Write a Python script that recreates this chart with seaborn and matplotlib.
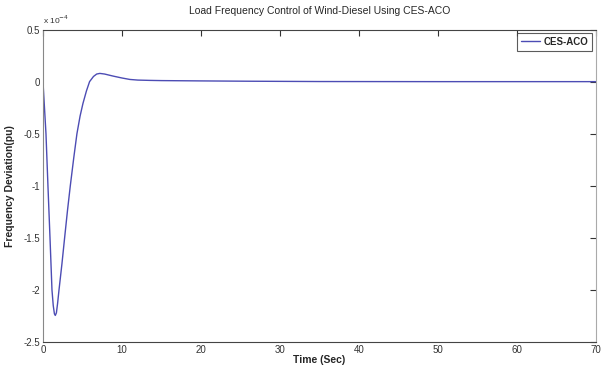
import numpy as np
import pandas as pd
import matplotlib
matplotlib.use("Agg")
import matplotlib.pyplot as plt
import seaborn as sns

# Data (frequency deviation in units of 1e-4 pu)
time_sec = [0.0, 0.38, 0.63, 0.89, 1.14, 1.3, 1.45, 1.56, 1.7, 1.85, 2.03, 2.4, 2.74, 3.1, 3.46,
            3.9, 4.3, 4.7, 5.06, 5.5, 5.9, 6.4, 6.8, 7.2, 7.8, 8.4, 8.9, 10.0, 11.0, 12.0, 13.5,
            15.0, 20.0, 26.0, 35.0, 50.0, 70.0]
freq_dev = [0.0, -0.5, -1.0, -1.5, -2.0, -2.15, -2.23, -2.245, -2.22, -2.13, -2.0, -1.75, -1.5,
            -1.24, -1.0, -0.73, -0.5, -0.33, -0.21, -0.09, 0.0, 0.05, 0.073, 0.079, 0.073, 0.062,
            0.053, 0.035, 0.021, 0.015, 0.012, 0.01, 0.007, 0.004, 0.001, 0.0, 0.0]
series_name = "CES-ACO"
x_ticks = [0, 10, 20, 30, 40, 50, 60, 70]
y_ticks = [0.5, 0, -0.5, -1, -1.5, -2, -2.5]
y_tick_labels = ["0.5", "0", "-0.5", "-1", "-1.5", "-2", "-2.5"]

df = pd.DataFrame({"Time": time_sec, "Freq": freq_dev, "Method": series_name})

sns.set_style("white")
plt.rcParams['font.family'] = ['Liberation Sans', 'DejaVu Sans']

fig = plt.figure(figsize=(6.01, 3.65), dpi=100)
ax = fig.add_axes([0.0715, 0.063, 0.92, 0.856])

sns.lineplot(data=df, x="Time", y="Freq", hue="Method", palette=["#4c4cb4"],
             linewidth=1.0, ax=ax)

ax.set_xlim(0, 70)
ax.set_ylim(-2.5, 0.5)
ax.set_xticks(x_ticks)
ax.set_xticklabels([str(t) for t in x_ticks])
ax.set_yticks(y_ticks)
ax.set_yticklabels(y_tick_labels)
ax.tick_params(direction="in", length=4, width=0.8, labelsize=7, colors="#333333",
               top=True, right=True, pad=2)
for s in ax.spines.values():
    s.set_color("#444444")
    s.set_linewidth(0.8)
ax.spines['left'].set_color("#888888")
ax.spines['right'].set_color("#aaaaaa")

ax.set_xlabel("Time (Sec)", fontsize=7.5, fontweight="bold", labelpad=0)
ax.set_ylabel("Frequency Deviation(pu)", fontsize=7.5, fontweight="bold", labelpad=6)
ax.set_title("Load Frequency Control of Wind-Diesel Using CES-ACO", fontsize=7.5, pad=11)
ax.text(0.0, 1.012, r"x 10$^{-4}$", transform=ax.transAxes, fontsize=6, color="#333333",
        ha="left", va="bottom")

leg = ax.legend(loc="upper right", fontsize=7, frameon=True, fancybox=False,
                handlelength=2.0, borderpad=0.4, borderaxespad=0.35, handletextpad=0.4)
leg.get_frame().set_edgecolor("#333333")
leg.get_frame().set_linewidth(0.8)
for t in leg.get_texts():
    t.set_fontweight("bold")

fig.savefig("out.png", dpi=100)
